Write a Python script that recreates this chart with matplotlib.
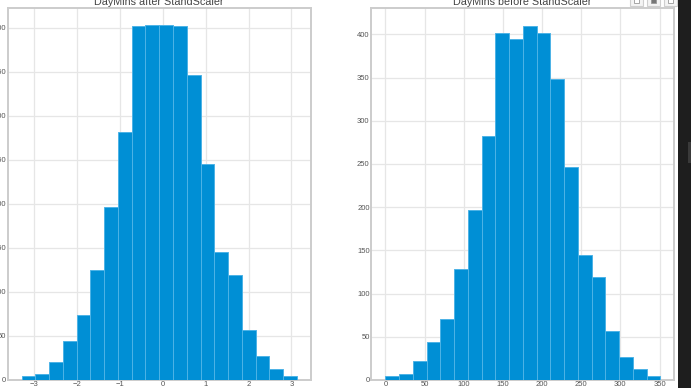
import matplotlib
matplotlib.use('Agg')
import matplotlib.pyplot as plt
from matplotlib.patches import Rectangle
import numpy as np

W, H = 691, 388

# bin edges and counts
after_start, after_end = -3.3, 3.13
after_counts = [5, 7, 21, 44, 74, 125, 197, 282, 402, 403, 403, 402, 347, 246, 145, 119, 57, 27, 13, 5]
before_start, before_end = 0, 351
before_counts = [5, 7, 22, 44, 71, 129, 197, 282, 402, 395, 410, 402, 348, 246, 145, 119, 57, 27, 13, 5]

after_xticks = [-3, -2, -1, 0, 1, 2, 3]
before_xticks = [0, 50, 100, 150, 200, 250, 300, 350]
yticks = [0, 50, 100, 150, 200, 250, 300, 350, 400]

plt.style.use('seaborn-v0_8-whitegrid')
plt.rcParams['font.family'] = ['Liberation Sans', 'DejaVu Sans']

def make_axes(fig, left, right, top, bottom):
    return fig.add_axes([left / W, 1 - bottom / H, (right - left) / W, (bottom - top) / H])

def draw_hist(ax, start, end, counts, xticks, xlim, ylim, title):
    edges = np.linspace(start, end, len(counts) + 1)
    ax.bar(edges[:-1], counts, width=np.diff(edges), align='edge', color='#008fd5',
           edgecolor='#4db3e6', linewidth=0.7, zorder=3)
    ax.set_xlim(*xlim)
    ax.set_ylim(*ylim)
    ax.set_xticks(xticks)
    ax.set_yticks(yticks)
    ax.grid(True, color='#e6e6e6', linewidth=0.9)
    ax.set_axisbelow(True)
    ax.tick_params(labelsize=5.5, colors='#555555', length=0, pad=1)
    for spine in ax.spines.values():
        spine.set_color('#cccccc')
        spine.set_linewidth(1.4)
    ax.set_title(title, fontsize=7.75, color='#444444', pad=2)

def add_px_rect(fig, x, y, w, h, face, edge='none', lw=0):
    fig.add_artist(Rectangle((x / W, 1 - (y + h) / H), w / W, h / H, transform=fig.transFigure,
                             facecolor=face, edgecolor=edge, linewidth=lw))

fig = plt.figure(figsize=(W / 100, H / 100), dpi=100)

ax1 = make_axes(fig, 7.5, 311, 8, 380)
draw_hist(ax1, after_start, after_end, after_counts, after_xticks,
          (-3.63, 3.46), (0, 422.7), 'DayMins after StandScaler')

ax2 = make_axes(fig, 371, 674, 8, 380)
draw_hist(ax2, before_start, before_end, before_counts, before_xticks,
          (-18.5, 368.5), (0, 430.5), 'DayMins before StandScaler')

# notebook toolbar buttons, cut by the top of the screenshot
for bx, glyph in [(630, '#ffffff'), (647, '#777777'), (664, '#ffffff')]:
    add_px_rect(fig, bx, -2, 13, 8, '#f4f4f4', '#cfcfcf', 0.8)
    add_px_rect(fig, bx + 4, -2, 5, 5, glyph, '#999999', 0.6)

# dark strip of the screenshot on the right, with the scrollbar thumb
add_px_rect(fig, 678, 0, 13, H, '#1e1e1e')
add_px_rect(fig, 688, 142, 3, 21, '#3a3a3a')

fig.savefig('out.png', dpi=100)
